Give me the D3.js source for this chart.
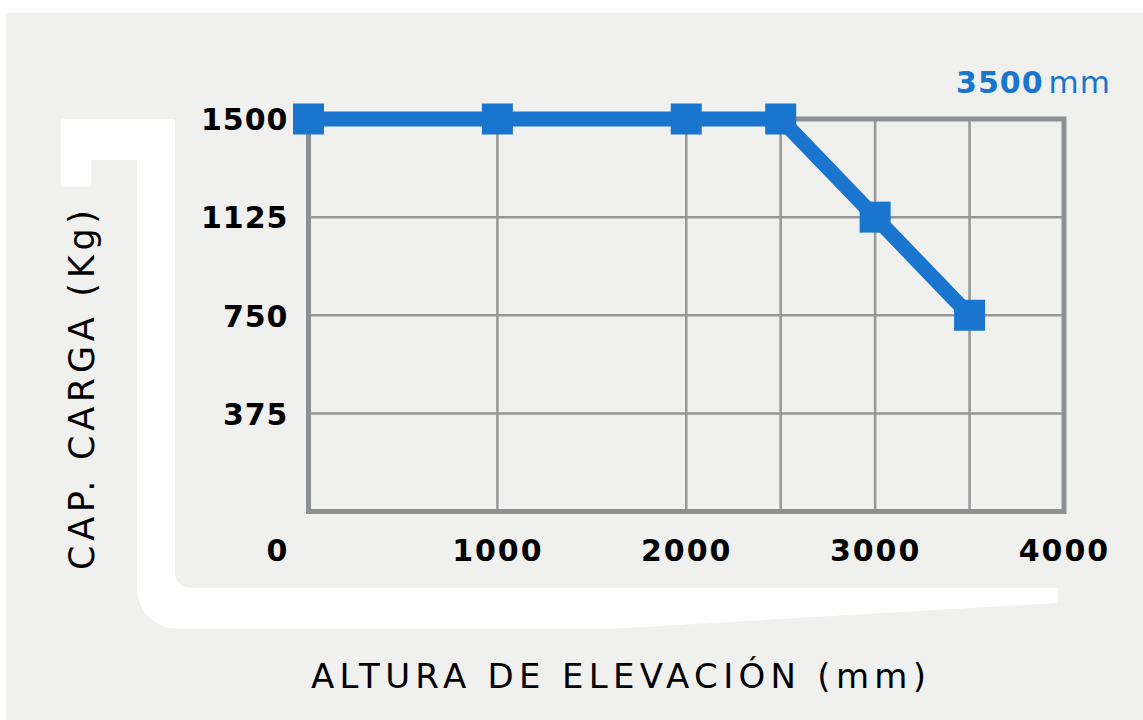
<!DOCTYPE html>
<html>
<head>
<meta charset="utf-8">
<script src="https://cdn.jsdelivr.net/npm/d3@7"></script>
<style>
  html, body { margin: 0; padding: 0; background: #fff; }
  svg { display: block; }
</style>
</head>
<body>
<svg id="chart"></svg>
<script>
// data
const heights = [0, 1000, 2000, 2500, 3000, 3500];
const capacities = [1500, 1500, 1500, 1500, 1125, 750];
const xTicks = [0, 1000, 2000, 3000, 4000];
const yTicks = [375, 750, 1125, 1500];
const xGrid = [1000, 2000, 2500, 3000, 3500];
const yGrid = [375, 750, 1125];
const maxHeightLabel = { value: '3500', unit: 'mm' };

const W = 1143, H = 720;
const PLOT = { left: 308.5, right: 1064, top: 119, bottom: 511.5 };
const BLUE = '#1a75cf';
const BORDER = '#8d9092';
const GRID = '#979797';
const BOLD_FONT = '"DejaVu Sans", sans-serif';
const TEXT_FONT = '"DejaVu Sans", sans-serif';

const svg = d3.select('#chart')
    .attr('width', W)
    .attr('height', H);

// grey panel
svg.append('rect')
    .attr('x', 6).attr('y', 13)
    .attr('width', W - 6).attr('height', H - 13)
    .attr('fill', '#f0f0ef');

// white fork silhouette behind the plot
svg.append('path')
    .attr('fill', '#fff')
    .attr('d', 'M63,119 H173 Q175,119 175,121 V572 A15,15 0 0 0 190,587.7 H1058 V603 L613,628.7 H177'
      + ' A40,40 0 0 1 137,588.7 V160 H91 V184.7 Q91,186.7 89,186.7 H63 Q61,186.7 61,184.7 V121 Q61,119 63,119 Z');

const x = d3.scaleLinear().domain([0, 4000]).range([PLOT.left, PLOT.right]);
const y = d3.scaleLinear().domain([0, 1500]).range([PLOT.bottom, PLOT.top]);

// grid
svg.append('g')
    .selectAll('line')
    .data(xGrid)
  .enter()
    .append('line')
    .attr('x1', d => x(d)).attr('x2', d => x(d))
    .attr('y1', y(0)).attr('y2', y(1500))
    .attr('stroke', GRID)
    .attr('stroke-width', 2.5);

svg.append('g')
    .selectAll('line')
    .data(yGrid)
  .enter()
    .append('line')
    .attr('x1', x(0)).attr('x2', x(4000))
    .attr('y1', d => y(d)).attr('y2', d => y(d))
    .attr('stroke', GRID)
    .attr('stroke-width', 2.5);

// frame
svg.append('rect')
    .attr('x', x(0)).attr('y', y(1500))
    .attr('width', x(4000) - x(0))
    .attr('height', y(0) - y(1500))
    .attr('fill', 'none')
    .attr('stroke', BORDER)
    .attr('stroke-width', 5);

// axes (labels only)
const xAxis = svg.append('g')
    .attr('transform', `translate(0,${PLOT.bottom})`)
    .call(d3.axisBottom(x).tickValues(xTicks).tickSize(0).tickPadding(0).tickFormat(d3.format('d')));
xAxis.select('.domain').remove();
xAxis.selectAll('text')
    .attr('y', 49)
    .attr('dy', 0)
    .attr('dx', d => d === 0 ? -31 : 0)
    .attr('fill', '#000')
    .style('font-family', BOLD_FONT)
    .style('font-weight', 'bold')
    .style('font-size', '30px')
    .style('letter-spacing', '2px');

const yAxis = svg.append('g')
    .attr('transform', `translate(${PLOT.left},0)`)
    .call(d3.axisLeft(y).tickValues(yTicks).tickSize(0).tickPadding(0).tickFormat(d3.format('d')));
yAxis.select('.domain').remove();
yAxis.selectAll('text')
    .attr('x', -20)
    .attr('dy', '0.36em')
    .attr('fill', '#000')
    .style('font-family', BOLD_FONT)
    .style('font-weight', 'bold')
    .style('font-size', '30px')
    .style('letter-spacing', '1px');

// line + square markers
const line = d3.line()
    .x((d, i) => x(heights[i]))
    .y(d => y(d));

svg.append('path')
    .datum(capacities)
    .attr('fill', 'none')
    .attr('stroke', BLUE)
    .attr('stroke-width', 15)
    .attr('stroke-linejoin', 'miter')
    .attr('d', line);

const SQ = 31;
svg.append('g')
    .selectAll('rect')
    .data(capacities)
  .enter()
    .append('rect')
    .attr('x', (d, i) => x(heights[i]) - SQ / 2)
    .attr('y', d => y(d) - SQ / 2)
    .attr('width', SQ)
    .attr('height', SQ)
    .attr('fill', BLUE);

// max lift height label
const mh = svg.append('text')
    .attr('x', 1111)
    .attr('y', 92.5)
    .attr('text-anchor', 'end')
    .attr('fill', BLUE)
    .style('font-size', '30px');
mh.append('tspan')
    .style('font-family', BOLD_FONT)
    .style('font-weight', 'bold')
    .style('letter-spacing', '1px')
    .text(maxHeightLabel.value);
mh.append('tspan')
    .attr('dx', 5)
    .style('font-family', TEXT_FONT)
    .style('font-weight', 'normal')
    .style('font-size', '31px')
    .style('letter-spacing', '1px')
    .text(maxHeightLabel.unit);

// axis titles
svg.append('text')
    .attr('transform', 'translate(93.5,390) rotate(-90)')
    .attr('text-anchor', 'middle')
    .attr('textLength', 360)
    .attr('lengthAdjust', 'spacing')
    .attr('fill', '#000')
    .style('font-family', TEXT_FONT)
    .style('font-weight', 'normal')
    .style('font-size', '35px')
    .text('CAP. CARGA (Kg)');

svg.append('text')
    .attr('x', 618.5)
    .attr('y', 688.3)
    .attr('text-anchor', 'middle')
    .attr('textLength', 615)
    .attr('lengthAdjust', 'spacing')
    .attr('fill', '#000')
    .style('font-family', TEXT_FONT)
    .style('font-weight', 'normal')
    .style('font-size', '34px')
    .text('ALTURA DE ELEVACIÓN (mm)');
</script>
</body>
</html>
